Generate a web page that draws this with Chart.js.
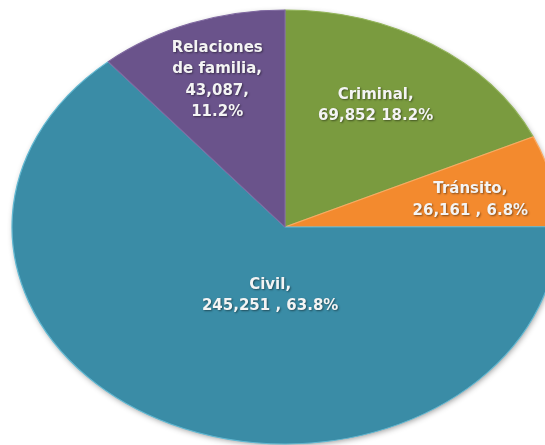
<!DOCTYPE html>
<html>
<head>
<meta charset="utf-8">
<script src="https://cdn.jsdelivr.net/npm/chart.js@4/dist/chart.umd.min.js"></script>
<style>
  html, body { margin: 0; padding: 0; background: #fff; }
  #wrap { width: 545px; height: 445px; }
</style>
</head>
<body>
<div id="wrap"><canvas id="pie" width="545" height="445"></canvas></div>
<script>
// datos (orden horario desde las 12)
const categorias = ['Criminal', 'Tránsito', 'Civil', 'Relaciones de familia'];
const casos = [69852, 26161, 245251, 43087];
const etiquetas = [
    ['Criminal,', '69,852 18.2%'],
    ['Tránsito,', '26,161 , 6.8%'],
    ['Civil,', '245,251 , 63.8%'],
    ['Relaciones', 'de familia,', '43,087,', '11.2%']
];

const colores = ['#7A9B3F', '#F38A2E', '#3A8CA6', '#6A538B'];
const bordes = ['#93B55A', '#FBAA62', '#62B9D3', '#7F68A0'];

// elipse: centro y radios en pixeles
const elipse = { cx: 285, cy: 227, rx: 273, ry: 217 };
// posición de etiquetas: fracción del radio y ajuste de ángulo (grados)
const posEtiqueta = [
    { r: 0.65, da: -2 },
    { r: 0.69, da: 2 },
    { r: 0.32, da: -15 },
    { r: 0.72, da: 0 }
];

const getTransform = (arc) => {
    const sx = elipse.rx / arc.outerRadius;
    const sy = elipse.ry / arc.outerRadius;
    return { sx, sy, ox: arc.x, oy: arc.y };
};

const elipsePlugin = {
    id: 'elipse',
    beforeDatasetsDraw(chart) {
        const ctx = chart.ctx;
        const arc = chart.getDatasetMeta(0).data[0];
        const t = getTransform(arc);
        // sombra exterior
        ctx.save();
        ctx.shadowColor = 'rgba(0,0,0,0.45)';
        ctx.shadowBlur = 6;
        ctx.shadowOffsetX = 1;
        ctx.shadowOffsetY = 2;
        ctx.fillStyle = '#3A8CA6';
        ctx.beginPath();
        ctx.ellipse(elipse.cx, elipse.cy, elipse.rx - 1, elipse.ry - 1, 0, 0, Math.PI * 2);
        ctx.fill();
        ctx.restore();

        ctx.save();
        ctx.translate(elipse.cx, elipse.cy);
        ctx.scale(t.sx, t.sy);
        ctx.translate(-t.ox, -t.oy);
    },
    afterDatasetsDraw(chart) {
        const ctx = chart.ctx;
        ctx.restore();

        const meta = chart.getDatasetMeta(0);
        ctx.save();
        ctx.font = 'bold 15px "DejaVu Sans", Verdana, sans-serif';
        ctx.fillStyle = '#F4F4F4';
        ctx.textAlign = 'center';
        ctx.textBaseline = 'middle';
        ctx.shadowColor = 'rgba(0,0,0,0.45)';
        ctx.shadowBlur = 2;
        ctx.shadowOffsetX = 1;
        ctx.shadowOffsetY = 1;
        const lineH = 21.5;
        meta.data.forEach((a, i) => {
            const p = posEtiqueta[i];
            const mid = (a.startAngle + a.endAngle) / 2 + p.da * Math.PI / 180;
            const x = elipse.cx + Math.cos(mid) * p.r * elipse.rx;
            const y = elipse.cy + Math.sin(mid) * p.r * elipse.ry;
            const lines = etiquetas[i];
            const y0 = y - (lines.length - 1) * lineH / 2;
            lines.forEach((txt, j) => ctx.fillText(txt, x, y0 + j * lineH));
        });
        ctx.restore();
    }
};

new Chart(document.getElementById('pie'), {
    type: 'pie',
    data: {
        labels: categorias,
        datasets: [{
            data: casos,
            backgroundColor: colores,
            borderColor: bordes,
            borderWidth: 1
        }]
    },
    options: {
        responsive: false,
        animation: false,
        events: [],
        layout: { padding: 0 },
        plugins: {
            legend: { display: false },
            tooltip: { enabled: false }
        }
    },
    plugins: [elipsePlugin]
});
</script>
</body>
</html>
